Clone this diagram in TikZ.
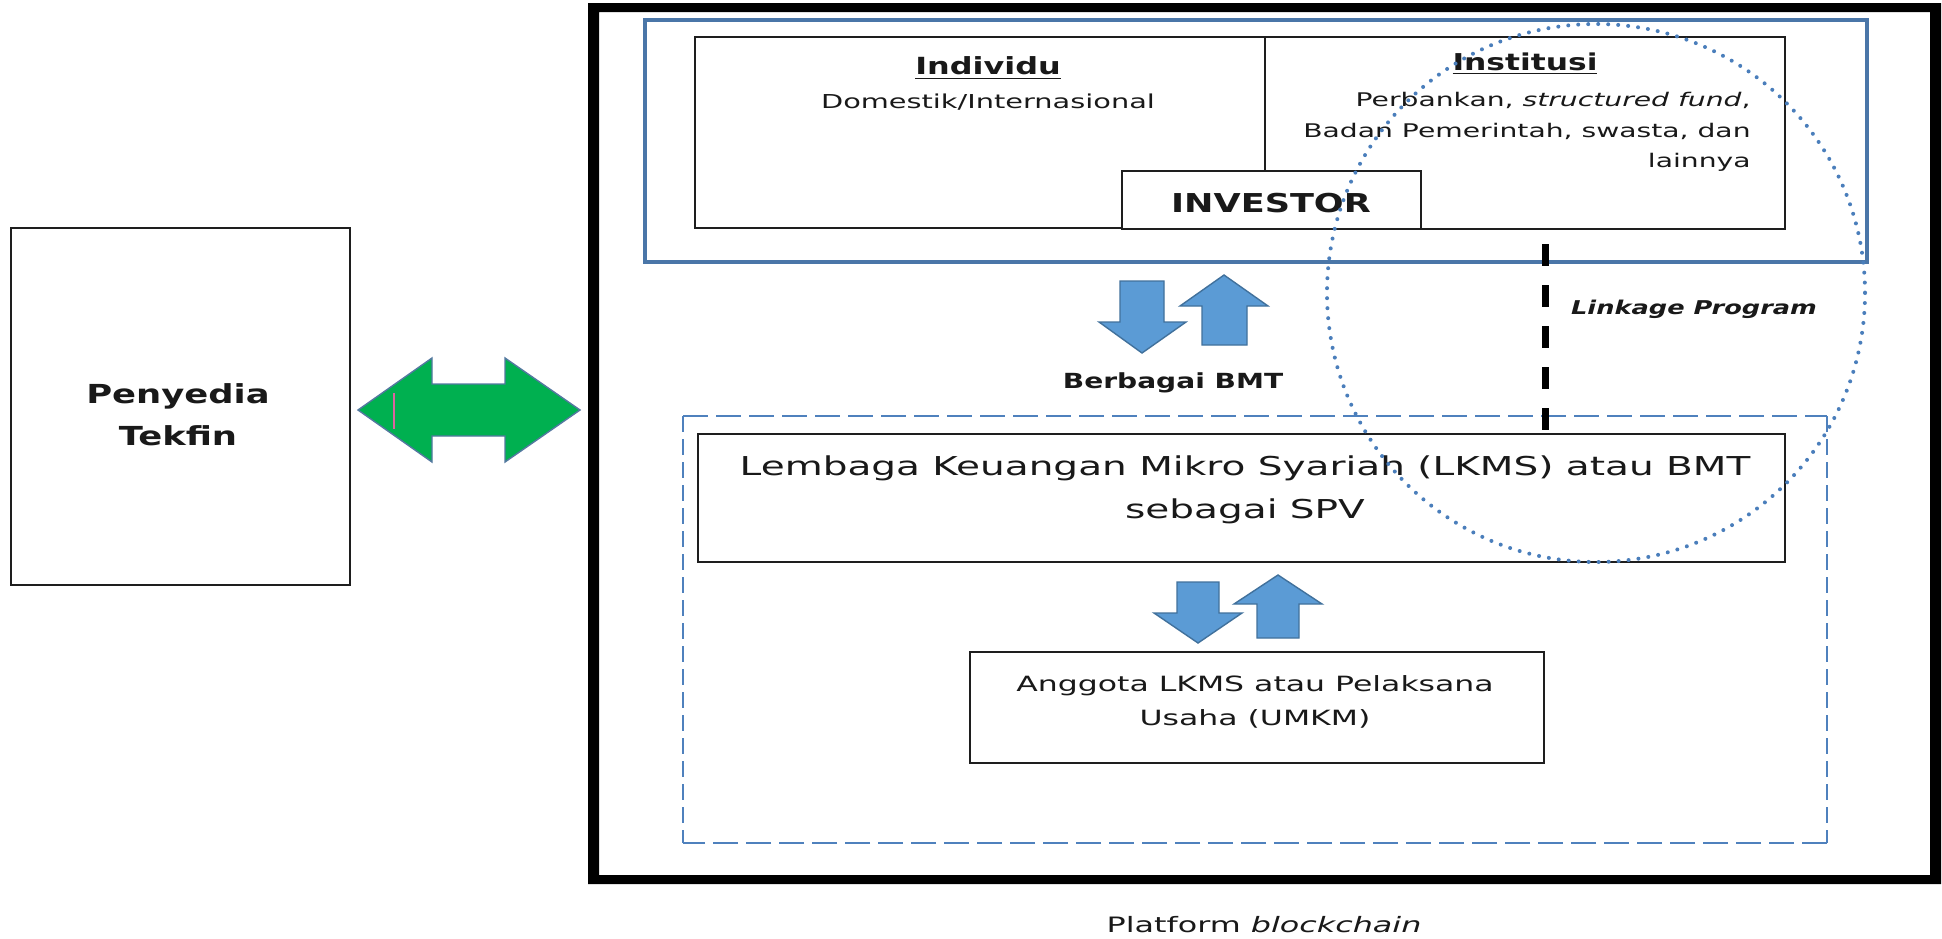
\documentclass[tikz,border=0pt]{standalone}
\usepackage{fontspec}
\setmainfont{DejaVu Sans}
\newfontfamily\regf{DejaVu Sans}[FakeStretch=1.5]
\newfontfamily\boldf{DejaVu Sans}[FakeStretch=1.35]
\usetikzlibrary{fit}
\definecolor{frameblue}{RGB}{74,118,168}
\definecolor{dashblue}{RGB}{79,129,189}
\definecolor{dotblue}{RGB}{74,126,187}
\definecolor{arrowblue}{RGB}{91,155,213}
\definecolor{arrowedge}{RGB}{65,113,156}
\definecolor{greenarrow}{RGB}{0,176,80}
\definecolor{greenedge}{RGB}{84,120,160}
\definecolor{pinkmark}{RGB}{220,100,160}
\definecolor{boxline}{RGB}{30,30,30}
\begin{document}
\begin{tikzpicture}[x=0.5pt,y=-0.5pt,
  boxshape/.style={draw=boxline, line width=1.2pt, inner sep=0pt},
  lbl/.style={inner sep=0pt, text=black!90},
  blockarrow/.style={fill=arrowblue, draw=arrowedge, line width=0.7pt, line join=miter},
  hdash/.style={draw=dashblue, line width=1.25pt, dash pattern=on 12.5pt off 4pt},
  vdash/.style={draw=dashblue, line width=1.25pt, dash pattern=on 8pt off 3.5pt}]
\useasboundingbox (0,0) rectangle (1942,938);
\fill[white] (0,0) rectangle (1942,938);

% outer platform frame (thick black)
\node (platform) [inner sep=0pt, fit={(594,8) (1935,879)}] {};
\fill[black, even odd rule] (588,3) rectangle (1941,884) (599,12) rectangle (1930,875);

% investor frame
\node (invframe) [draw=frameblue, line width=2pt, inner sep=0pt, fit={(645,20) (1867,262)}] {};

% investor boxes
\node (indiv) [boxshape, fit={(695,37) (1265,228)}] {};
\node (inst) [boxshape, fit={(1265,37) (1785,229)}] {};
\node (investor) [boxshape, fill=white, fit={(1122,171) (1421,229)}] {};

\node (indivT) [lbl, font={\boldf\bfseries\fontsize{11.8}{14}\selectfont}] at (988,68) {\underline{Individu}};
\node (indivD) [lbl, font={\regf\fontsize{9.6}{15}\selectfont}] at (988,102) {Domestik/Internasional};
\node (instT) [lbl, font={\boldf\bfseries\fontsize{11.6}{14}\selectfont}] at (1525,64) {\underline{Institusi}};
\node (instD) [lbl, anchor=east, align=right, font={\regf\fontsize{9.4}{15.25}\selectfont}] at (1751,132)
  {Perbankan, \textit{structured fund},\\Badan Pemerintah, swasta, dan\\lainnya};
\node (investorT) [lbl, font={\boldf\bfseries\fontsize{13}{16}\selectfont}] at (1271,203) {INVESTOR};

% Penyedia Tekfin
\node (tekfin) [boxshape, fit={(11,228) (350,585)}] {};
\node (tekfinT) [lbl, align=center, font={\boldf\bfseries\fontsize{13.1}{21}\selectfont}] at (178,415) {Penyedia\\Tekfin};

% green double arrow
\fill[greenarrow, draw=greenedge, line width=0.7pt]
  (358,410) -- (432,358) -- (432,384) -- (505,384) -- (505,358) -- (580,410)
  -- (505,462) -- (505,436) -- (432,436) -- (432,462) -- cycle;
\draw[pinkmark, line width=1pt] (394,393) -- (394,429);

% top pair of block arrows
\draw[blockarrow] (1120,281) -- (1164,281) -- (1164,322) -- (1186,322) -- (1142,353)
  -- (1099,322) -- (1120,322) -- cycle;
\draw[blockarrow] (1224,275) -- (1268,306) -- (1247,306) -- (1247,345) -- (1202,345)
  -- (1202,306) -- (1180,306) -- cycle;
\node (berbagai) [lbl, font={\boldf\bfseries\fontsize{10.4}{13}\selectfont}] at (1173,383) {Berbagai BMT};

% dashed box
\coordinate (dbTL) at (683,416);
\coordinate (dbBR) at (1827,843);
\draw[hdash] (dbTL) -- (dbTL -| dbBR);
\draw[hdash] (dbBR) -- (dbBR -| dbTL);
\draw[vdash] (dbTL) -- (dbTL |- dbBR);
\draw[vdash] (dbTL -| dbBR) -- (dbBR);

% LKMS box
\node (lkms) [boxshape, fit={(698,434) (1785,562)}] {};
\node (lkmsT) [lbl, align=center, font={\regf\fontsize{13}{21.5}\selectfont}] at (1245,490)
  {Lembaga Keuangan Mikro Syariah (LKMS) atau BMT\\sebagai SPV};

% bottom pair of block arrows
\draw[blockarrow] (1177,582) -- (1219,582) -- (1219,613) -- (1242,613) -- (1198,643)
  -- (1154,613) -- (1177,613) -- cycle;
\draw[blockarrow] (1278,575) -- (1322,604) -- (1299,604) -- (1299,638) -- (1257,638)
  -- (1257,604) -- (1234,604) -- cycle;

% Anggota box
\node (anggota) [boxshape, fit={(970,652) (1544,763)}] {};
\node (anggotaT) [lbl, align=center, font={\regf\fontsize{10.5}{17}\selectfont}] at (1255,702)
  {Anggota LKMS atau Pelaksana\\Usaha (UMKM)};

% linkage program
\coordinate (linkTop) at (1545,244);
\draw[black, line width=3.5pt, dash pattern=on 11pt off 9.5pt] (linkTop) -- (linkTop |- lkms.north);
\node (linkage) [lbl, font={\boldf\bfseries\itshape\fontsize{9.5}{12}\selectfont}] at (1694,309) {Linkage Program};

% dotted circle
\draw[dotblue, line width=2pt, line cap=round, dash pattern=on 0pt off 5pt]
  (1596,293) ellipse [x radius=269, y radius=269];

% caption
\node (caption) [lbl, font={\regf\fontsize{10.6}{13}\selectfont}] at (1264,925) {Platform \textit{blockchain}};
\end{tikzpicture}
\end{document}
